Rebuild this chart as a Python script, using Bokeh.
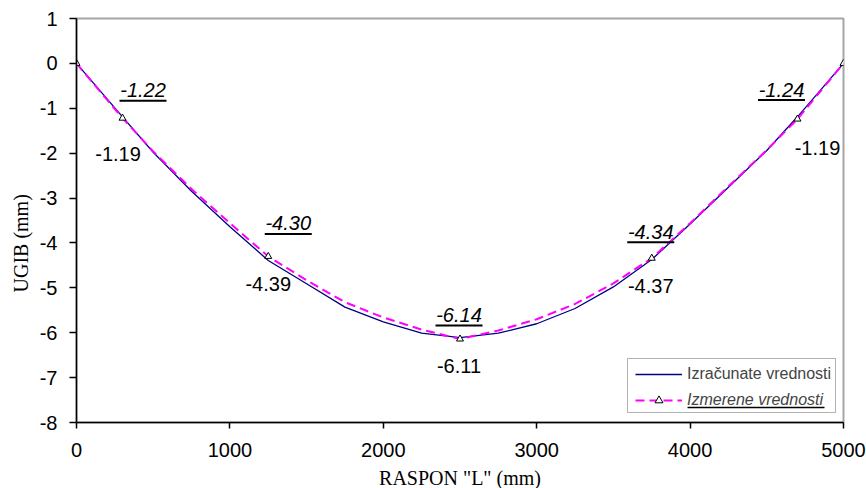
import numpy as np
from bokeh.plotting import figure
from bokeh.models import Range1d, Legend, LegendItem, BoxAnnotation, Title, FixedTicker
from bokeh.core.properties import value
from bokeh.embed import file_html
from bokeh.resources import INLINE

# ---------------- data ----------------
span_x = [0, 300, 500, 750, 1000, 1250, 1500, 1750, 2000, 2250, 2500,
          2750, 3000, 3250, 3500, 3750, 4000, 4250, 4500, 4700, 5000]
calc_y = [0, -1.19, -1.98, -2.85, -3.64, -4.39, -4.91, -5.43, -5.76, -6.01, -6.11,
          -6.01, -5.80, -5.46, -4.98, -4.37, -3.58, -2.76, -1.94, -1.19, 0]
meas_curve_y = [0, -1.22, -1.96, -2.80, -3.56, -4.30, -4.83, -5.32, -5.66, -5.93, -6.14,
                -5.95, -5.70, -5.36, -4.90, -4.34, -3.56, -2.74, -1.93, -1.24, 0]
meas_x = [0, 300, 1250, 2500, 3750, 4700, 5000]
meas_y = [0, -1.22, -4.30, -6.14, -4.34, -1.24, 0]
label_x = [300, 1250, 2500, 3750, 4700]
label_anchor_y = [-1.22, -4.30, -6.14, -4.34, -1.24]
calc_labels = ["-1.19", "-4.39", "-6.11", "-4.37", "-1.19"]
meas_labels = ["-1.22", "-4.30", "-6.14", "-4.34", "-1.24"]
x_ticks = [0, 1000, 2000, 3000, 4000, 5000]
y_ticks = [1, 0, -1, -2, -3, -4, -5, -6, -7, -8]

# ---------------- layout constants ----------------
FW, FH = 767, 404
X0, X1 = 0, 5000
Y0, Y1 = -8, 1
UX = (X1 - X0) / FW
UY = (Y1 - Y0) / FH
TXT_SHIFT = 7  # text glyph renders this many px below its alphabetic anchor

# label pixel offsets relative to anchor point (y down positive), baselines
calc_dx = [-4.5, 0, -1, -1, 20]
calc_dy = [43, 35, 34, 35, 36]
meas_dx = [20.5, 20, -1, -1, -16]
meas_dy = [-21, -26, -17, -19.5, -22.5]
UL_GAP = 3.5

p = figure(frame_width=FW, frame_height=FH, output_backend="svg", toolbar_location=None,
           x_range=Range1d(X0, X1), y_range=Range1d(Y0, Y1),
           min_border_left=76, min_border_right=23, min_border_top=18, min_border_bottom=66,
           background_fill_color="white", border_fill_color="white")
p.grid.visible = False
p.outline_line_color = "#a6a6a6"
p.outline_line_width = 2

for ax in (p.xaxis[0], p.yaxis[0]):
    ax.axis_line_color = "black"
    ax.axis_line_width = 1.5
    ax.major_tick_line_color = "black"
    ax.major_tick_line_width = 1.5
    ax.major_tick_in = 0
    ax.minor_tick_line_color = None
    ax.major_label_text_font = "Liberation Sans"
    ax.major_label_text_font_size = "20px"
    ax.major_label_text_color = "black"
p.xaxis[0].ticker = FixedTicker(ticks=x_ticks)
p.yaxis[0].ticker = FixedTicker(ticks=y_ticks)
p.yaxis[0].major_label_overrides = {t: str(t) for t in y_ticks}
p.xaxis[0].major_tick_out = 6
p.yaxis[0].major_tick_out = 7
p.xaxis[0].major_label_standoff = 14
p.yaxis[0].major_label_standoff = 12

p.xaxis[0].axis_label = 'RASPON "L" (mm)'
p.xaxis[0].axis_label_text_font = "Liberation Serif"
p.xaxis[0].axis_label_text_font_size = "20px"
p.xaxis[0].axis_label_text_font_style = "normal"
p.xaxis[0].axis_label_text_color = "black"
p.xaxis[0].axis_label_standoff = 7

p.add_layout(Title(text="UGIB (mm)", align="left", offset=130, standoff=9,
                   text_font="Liberation Serif", text_font_size="20px",
                   text_font_style="normal", text_color="black"), "left")

calc_r = p.line(span_x, calc_y, line_color="#000080", line_width=1.3)
meas_r = p.line(span_x, meas_curve_y, line_color="#FF00FF", line_width=2, line_dash="9 5")
mark_r = p.scatter(meas_x, meas_y, marker="triangle", size=7, fill_color="white",
                   line_color="black", line_width=1)

# value labels
lx = np.array(label_x, dtype=float)
ly = np.array(label_anchor_y, dtype=float)
p.text(x=lx + np.array(calc_dx) * UX, y=ly - (np.array(calc_dy) - TXT_SHIFT) * UY,
       text=calc_labels, text_font=value("Liberation Sans"), text_font_size="20px",
       text_align="center", text_baseline="alphabetic", text_color="black")
mtx = lx + np.array(meas_dx) * UX
p.text(x=mtx, y=ly - (np.array(meas_dy) - TXT_SHIFT) * UY, text=meas_labels,
       text_font=value("Liberation Sans"), text_font_size="20px", text_font_style="italic",
       text_align="center", text_baseline="alphabetic", text_color="black")
p.rect(x=mtx, y=ly - (np.array(meas_dy) + UL_GAP) * UY, width=47, height=2,
       width_units="screen", height_units="screen", fill_color="black", line_color=None)

# legend
p.add_layout(BoxAnnotation(left=X0 + 551 * UX, right=X0 + 759 * UX,
                           bottom=Y0 + 10 * UY, top=Y0 + 64 * UY,
                           fill_color=None, fill_alpha=0, line_color="black", line_width=1))
common = dict(glyph_width=47, glyph_height=20, label_height=20, padding=3, margin=0,
              label_standoff=5, spacing=0, label_text_font="Liberation Sans",
              label_text_font_size="16px", border_line_alpha=0, background_fill_alpha=0)
leg_a = Legend(items=[LegendItem(label="Izračunate vrednosti", renderers=[calc_r])],
               location=(556, 35), **common)
leg_b = Legend(items=[LegendItem(label="Izmerene vrednosti", renderers=[meas_r, mark_r])],
               location=(556, 9), label_text_font_style="italic", **common)
p.add_layout(leg_a)
p.add_layout(leg_b)
p.segment(x0=[X0 + 611 * UX], x1=[X0 + 748 * UX], y0=[Y0 + 15 * UY], y1=[Y0 + 15 * UY],
          line_color="black", line_width=1.5)

open("out.html", "w").write(file_html(p, INLINE))
